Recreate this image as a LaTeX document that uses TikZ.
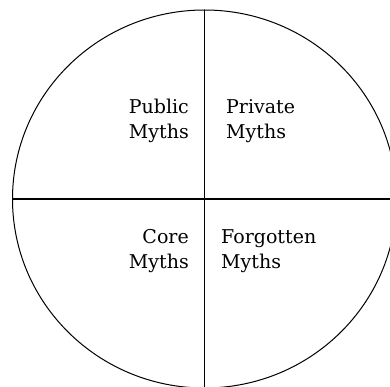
\documentclass[tikz,border=0pt]{standalone}
\usepackage{fontspec}
\setmainfont{DejaVu Serif}
\begin{document}
\begin{tikzpicture}[x=1pt,y=-1pt,
    quadrant/.style={font=\fontsize{19}{25.5}\selectfont, inner sep=0pt}]
    % Page frame
    \useasboundingbox (0,0) rectangle (390,387);
    \clip (0,0) rectangle (390,387);

    % Outer circle
    \draw[line width=1pt] (204.5,199) ellipse (192 and 189);

    % Dividing lines
    \coordinate (top) at (204.5,10);
    \coordinate (bottom) at (204.5,390);
    \coordinate (left) at (12.5,199);
    \coordinate (right) at (392,199);
    \draw[line width=1.3pt] (top) -- (bottom);
    \draw[line width=1.3pt] (left) -- (right);

    % Labels
    \node[quadrant, align=right, anchor=east] (public) at (189,121) {Public\\Myths};
    \node[quadrant, align=left, anchor=west] (private) at (226,121) {Private\\Myths};
    \node[quadrant, align=right, anchor=east] (core) at (189,251) {Core\\Myths};
    \node[quadrant, align=left, anchor=west] (forgotten) at (221,251) {Forgotten\\Myths};
\end{tikzpicture}
\end{document}
